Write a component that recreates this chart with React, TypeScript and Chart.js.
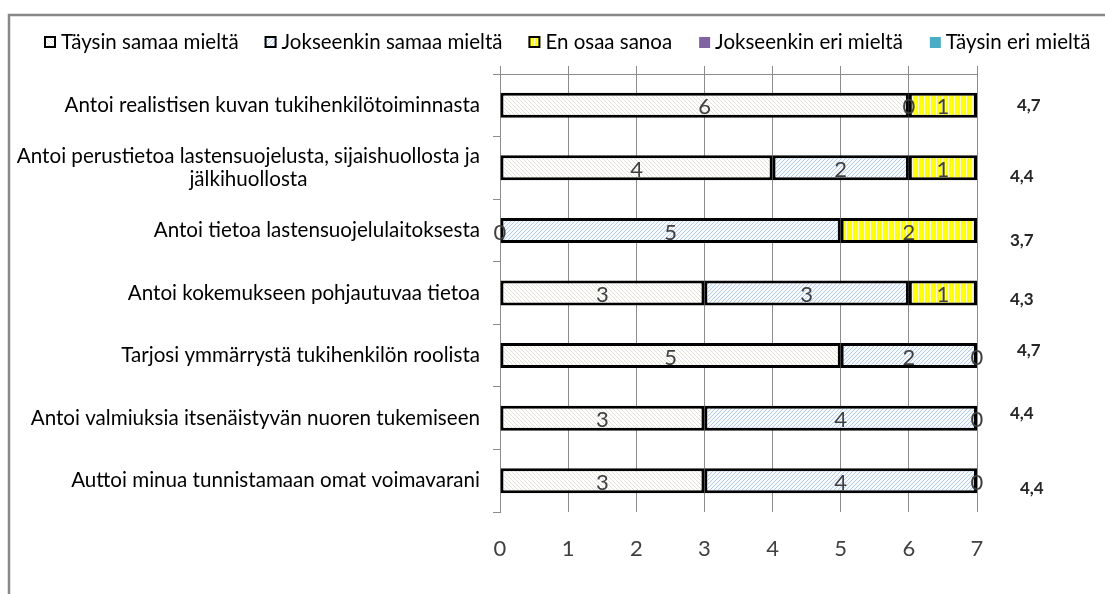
import { useEffect, useRef } from "react";
import { Chart, registerables } from "chart.js";

Chart.register(...registerables);

const categories: (string | string[])[] = [
  "Antoi realistisen kuvan tukihenkilötoiminnasta",
  ["Antoi perustietoa lastensuojelusta, sijaishuollosta ja", "jälkihuollosta"],
  "Antoi tietoa lastensuojelulaitoksesta",
  "Antoi kokemukseen pohjautuvaa tietoa",
  "Tarjosi ymmärrystä tukihenkilön roolista",
  "Antoi valmiuksia itsenäistyvän nuoren tukemiseen",
  "Auttoi minua tunnistamaan omat voimavarani",
];

const seriesNames = [
  "Täysin samaa mieltä",
  "Jokseenkin samaa mieltä",
  "En osaa sanoa",
  "Jokseenkin eri mieltä",
  "Täysin eri mieltä",
];

const taysinSamaa: (number | null)[] = [6, 4, 0, 3, 5, 3, 3];
const jokseenkinSamaa: (number | null)[] = [0, 2, 5, 3, 2, 4, 4];
const enOsaaSanoa: (number | null)[] = [1, 1, 2, 1, 0, 0, 0];
const jokseenkinEri: (number | null)[] = [null, null, null, null, null, null, null];
const taysinEri: (number | null)[] = [null, null, null, null, null, null, null];

const means = [4.7, 4.4, 3.7, 4.3, 4.7, 4.4, 4.4];
const xTicks = [0, 1, 2, 3, 4, 5, 6, 7];

// small visual nudges of the mean labels (style only)
const meanDx = [40, 33, 33, 33, 40, 33, 43];
const meanDy = [0, 9, 10, 7, -5, -5, 8];

const FONT = "Lato, 'Open Sans', sans-serif";

function makePattern(bg: string, fg: string, kind: "back" | "fwd" | "vert") {
  const n = kind === "vert" ? 3 : 4;
  const c = document.createElement("canvas");
  c.width = n;
  c.height = n;
  const g = c.getContext("2d")!;
  g.fillStyle = bg;
  g.fillRect(0, 0, n, n);
  g.fillStyle = fg;
  for (let y = 0; y < n; y++) {
    if (kind === "back") g.fillRect(y, y, 1, 1);
    else if (kind === "fwd") g.fillRect(n - 1 - y, y, 1, 1);
    else g.fillRect(0, y, 1, 1);
  }
  const ctx = document.createElement("canvas").getContext("2d")!;
  return ctx.createPattern(c, "repeat") as CanvasPattern;
}

export default function App() {
  const ref = useRef<HTMLCanvasElement>(null);

  useEffect(() => {
    if (!ref.current) return;
    const fills: any[] = [
      makePattern("#ffffff", "#e2dfd3", "back"),
      makePattern("#f6f9fd", "#b3cbeb", "fwd"),
      makePattern("#ffff00", "#f8f8d6", "vert"),
      "#8064A2",
      "#4BACC6",
    ];
    const seriesData = [taysinSamaa, jokseenkinSamaa, enOsaaSanoa, jokseenkinEri, taysinEri];

    const framePlugin = {
      id: "frame",
      beforeDraw(chart: any) {
        const ctx = chart.ctx;
        ctx.save();
        ctx.fillStyle = "#ffffff";
        ctx.fillRect(0, 0, chart.width, chart.height);
        ctx.strokeStyle = "#888888";
        ctx.lineWidth = 2.5;
        ctx.strokeRect(9, 15, 2000, 2000);
        ctx.restore();
      },
    };

    const labelsPlugin = {
      id: "customLabels",
      afterDraw(chart: any) {
        const ctx = chart.ctx;
        const yScale = chart.scales.y;
        const area = chart.chartArea;
        ctx.save();
        // category labels
        ctx.fillStyle = "#000000";
        ctx.font = `20.6px ${FONT}`;
        ctx.textBaseline = "middle";
        categories.forEach((lab, i) => {
          const y = yScale.getPixelForValue(i);
          const lines = Array.isArray(lab) ? lab : [lab];
          const widths = lines.map((l) => ctx.measureText(l).width);
          const maxW = Math.max(...widths);
          const right = area.left - 20;
          const cx = right - maxW / 2;
          ctx.textAlign = "center";
          const lh = 23;
          lines.forEach((l, j) => {
            ctx.fillText(l, cx, y + (j - (lines.length - 1) / 2) * lh);
          });
        });
        // data labels
        ctx.fillStyle = "#404040";
        ctx.font = `22px ${FONT}`;
        ctx.textAlign = "center";
        chart.data.datasets.forEach((ds: any, di: number) => {
          const meta = chart.getDatasetMeta(di);
          meta.data.forEach((el: any, i: number) => {
            const v = ds.data[i];
            if (v === null || v === undefined) return;
            const cx = (el.x + el.base) / 2;
            ctx.fillText(String(v), cx, el.y + 2);
          });
        });
        // mean labels
        ctx.fillStyle = "#262626";
        ctx.font = `bold 17px ${FONT}`;
        ctx.textAlign = "left";
        means.forEach((m, i) => {
          const y = yScale.getPixelForValue(i);
          ctx.fillText(m.toFixed(1).replace(".", ","), area.right + meanDx[i], y + meanDy[i]);
        });
        // legend
        ctx.font = `20.5px ${FONT}`;
        ctx.textBaseline = "middle";
        ctx.textAlign = "left";
        const ly = 42;
        let x = 44;
        seriesNames.forEach((name, i) => {
          ctx.fillStyle = fills[i];
          if (i < 3) {
            ctx.fillRect(x, ly - 6, 12, 12);
            ctx.strokeStyle = "#000000";
            ctx.lineWidth = 2;
            ctx.strokeRect(x + 1, ly - 5, 10, 10);
          } else {
            ctx.fillRect(x + 1, ly - 5, 11, 11);
          }
          ctx.fillStyle = "#000000";
          ctx.fillText(name, x + 17, ly);
          x += 17 + ctx.measureText(name).width + 26;
        });
        ctx.restore();
      },
    };

    const chart = new Chart(ref.current, {
      type: "bar",
      data: {
        labels: categories.map((c) => (Array.isArray(c) ? c.join(" ") : c)),
        datasets: seriesNames.map((name, i) => ({
          label: name,
          data: seriesData[i] as any,
          backgroundColor: fills[i],
          borderColor: "#000000",
          borderWidth: 3,
          borderSkipped: false,
          barPercentage: 0.4,
          categoryPercentage: 1,
        })),
      },
      options: {
        indexAxis: "y",
        animation: false,
        responsive: true,
        maintainAspectRatio: false,
        layout: { padding: { top: 66, right: 128, left: 0, bottom: 0 } },
        plugins: {
          legend: { display: false },
          tooltip: { enabled: false },
        },
        scales: {
          x: {
            type: "linear",
            position: "bottom",
            stacked: true,
            min: 0,
            max: 7,
            afterBuildTicks: (s: any) => {
              s.ticks = xTicks.map((v) => ({ value: v }));
            },
            afterFit: (s: any) => {
              s.height = 82;
            },
            grid: { color: "#8c8c8c", lineWidth: 1, drawTicks: false },
            border: { display: false },
            ticks: {
              padding: 24,
              color: "#404040",
              font: { family: FONT, size: 22 },
            },
          },
          x2: {
            type: "linear",
            position: "top",
            min: 0,
            max: 7,
            afterBuildTicks: (s: any) => {
              s.ticks = xTicks.map((v) => ({ value: v }));
            },
            afterFit: (s: any) => {
              s.height = 8;
            },
            grid: { color: "#8c8c8c", drawOnChartArea: false, drawTicks: true, tickLength: 8 },
            border: { display: true, color: "#8c8c8c", width: 1 },
            ticks: { display: false },
          },
          y: {
            type: "category",
            stacked: true,
            afterFit: (s: any) => {
              s.width = 500;
            },
            grid: { color: "#8c8c8c", drawOnChartArea: false, drawTicks: true, tickLength: 7, offset: true },
            border: { display: true, color: "#8c8c8c", width: 1 },
            ticks: { display: false },
          },
        },
      },
      plugins: [framePlugin, labelsPlugin],
    });
    return () => chart.destroy();
  }, []);

  return (
    <div style={{ position: "fixed", left: 0, top: 0, width: 1105, height: 594 }}>
      <canvas ref={ref} />
    </div>
  );
}
